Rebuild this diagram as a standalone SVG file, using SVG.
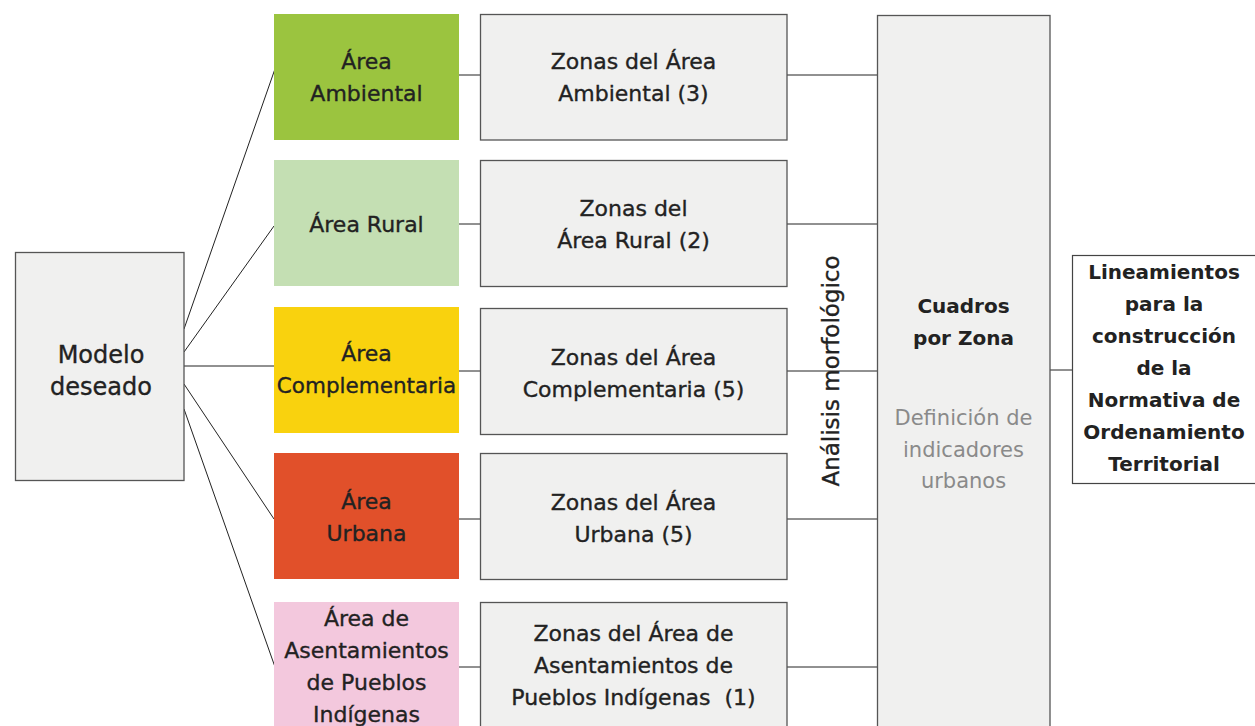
<svg xmlns="http://www.w3.org/2000/svg" width="1255" height="726" viewBox="0 0 1255 726">
<style>
.t{font-family:"DejaVu Sans","Liberation Sans",sans-serif;font-size:22px;fill:#222;stroke:#222;stroke-width:0.35;text-anchor:middle}
.b{font-weight:bold;font-size:20px;stroke:none}
.g{fill:#8a8a8a;stroke:none;font-size:21px}
.box{fill:#f0f0ef;stroke:#555;stroke-width:1.3}
.ln{stroke:#222;stroke-width:1;fill:none}
</style>
<rect width="1255" height="726" fill="#fff"/>
<g id="connectors">
<path class="ln" d="M184,329 L276,66 M184,352 L274,226 M184,366 L274,366 M184,384 L274,519 M184,409 L275,667"/>
<path class="ln" d="M459,75 H480 M459,224 H480 M459,371 H480 M459,519 H480 M459,667 H480"/>
<path class="ln" d="M787,75 H877 M787,224 H877 M787,371 H877 M787,519 H877 M787,667 H877"/>
<path class="ln" d="M1050,370 H1072"/>
</g>
<g id="modelo">
<rect class="box" x="15.5" y="252.5" width="168.5" height="228" stroke="#444"/>
<text class="t" x="101" y="363" style="font-size:24px">Modelo</text>
<text class="t" x="101" y="395" style="font-size:24px">deseado</text>
</g>
<g id="area-ambiental">
<rect x="274" y="14" width="185" height="126" fill="#9bc43f"/>
<text class="t" x="366.5" y="69">Área</text>
<text class="t" x="366.5" y="101">Ambiental</text>
</g>
<g id="area-rural">
<rect x="274" y="160" width="185" height="126" fill="#c4dfb3"/>
<text class="t" x="366.5" y="232">Área Rural</text>
</g>
<g id="area-complementaria">
<rect x="274" y="307" width="185" height="126" fill="#f9d20e"/>
<text class="t" x="366.5" y="361">Área</text>
<text class="t" x="366.5" y="393" style="font-size:21.5px">Complementaria</text>
</g>
<g id="area-urbana">
<rect x="274" y="453" width="185" height="126" fill="#e1502a"/>
<text class="t" x="366.5" y="509">Área</text>
<text class="t" x="366.5" y="541">Urbana</text>
</g>
<g id="area-pueblos">
<rect x="274" y="602" width="185" height="130" fill="#f3c8dd"/>
<text class="t" x="366.5" y="626">Área de</text>
<text class="t" x="366.5" y="658">Asentamientos</text>
<text class="t" x="366.5" y="690">de Pueblos</text>
<text class="t" x="366.5" y="722">Indígenas</text>
</g>
<g id="zonas-ambiental">
<rect class="box" x="480.5" y="14.5" width="306.5" height="125.5"/>
<text class="t" x="633.5" y="69">Zonas del Área</text>
<text class="t" x="633.5" y="101">Ambiental (3)</text>
</g>
<g id="zonas-rural">
<rect class="box" x="480.5" y="160.5" width="306.5" height="126"/>
<text class="t" x="633.5" y="216">Zonas del</text>
<text class="t" x="633.5" y="248">Área Rural (2)</text>
</g>
<g id="zonas-complementaria">
<rect class="box" x="480.5" y="308.5" width="306.5" height="126"/>
<text class="t" x="633.5" y="365">Zonas del Área</text>
<text class="t" x="633.5" y="397">Complementaria (5)</text>
</g>
<g id="zonas-urbana">
<rect class="box" x="480.5" y="453.5" width="306.5" height="126"/>
<text class="t" x="633.5" y="510">Zonas del Área</text>
<text class="t" x="633.5" y="542">Urbana (5)</text>
</g>
<g id="zonas-pueblos">
<rect class="box" x="480.5" y="602.5" width="306.5" height="130"/>
<text class="t" x="633.5" y="641">Zonas del Área de</text>
<text class="t" x="633.5" y="673">Asentamientos de</text>
<text class="t" x="633.5" y="705" xml:space="preserve">Pueblos Indígenas  (1)</text>
</g>
<g id="analisis">
<text class="t" transform="translate(839,371) rotate(-90)" style="font-size:23px">Análisis morfológico</text>
</g>
<g id="cuadros">
<rect class="box" x="877.5" y="15.5" width="172.5" height="720" stroke="#777"/>
<text class="t b" x="963.5" y="313">Cuadros</text>
<text class="t b" x="963.5" y="345">por Zona</text>
<text class="t g" x="963.5" y="425">Definición de</text>
<text class="t g" x="963.5" y="457">indicadores</text>
<text class="t g" x="963.5" y="488">urbanos</text>
</g>
<g id="lineamientos">
<rect x="1072.5" y="255.5" width="184" height="228" fill="#fff" stroke="#444" stroke-width="1.2"/>
<text class="t b" x="1164" y="279">Lineamientos</text>
<text class="t b" x="1164" y="311">para la</text>
<text class="t b" x="1164" y="343">construcción</text>
<text class="t b" x="1164" y="375">de la</text>
<text class="t b" x="1164" y="407">Normativa de</text>
<text class="t b" x="1164" y="439">Ordenamiento</text>
<text class="t b" x="1164" y="471">Territorial</text>
</g>
</svg>
